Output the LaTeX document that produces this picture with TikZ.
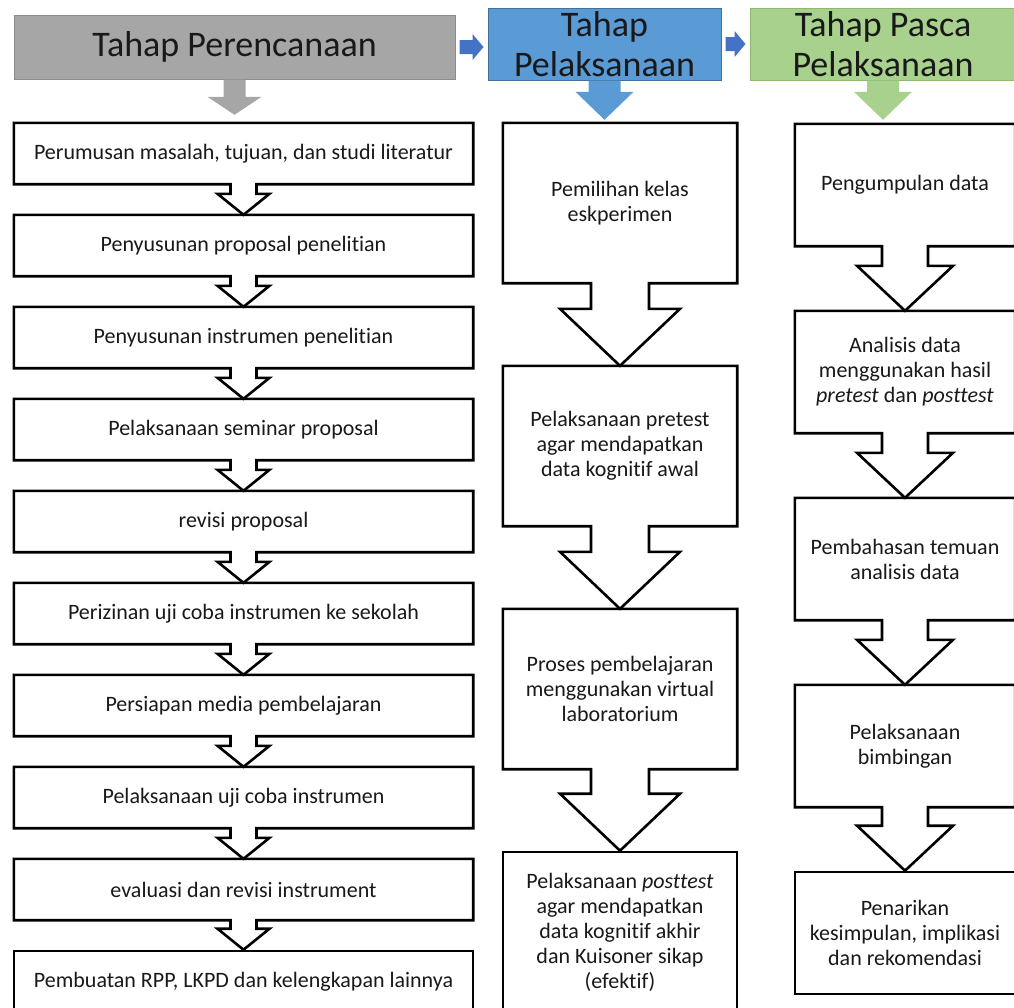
\documentclass[tikz,border=0pt]{standalone}
\usepackage{fontspec}
\setmainfont{Carlito}[Ligatures=NoCommon]
\usepackage{tikz}
\usetikzlibrary{positioning, shapes, arrows.meta, calc}
\definecolor{HeadGray}{RGB}{166,166,166}
\definecolor{HeadGrayLine}{RGB}{140,140,140}
\definecolor{HeadBlue}{RGB}{91,155,213}
\definecolor{HeadBlueLine}{RGB}{65,113,156}
\definecolor{HeadGreen}{RGB}{169,209,142}
\definecolor{HeadGreenLine}{RGB}{140,185,110}
\definecolor{LinkBlue}{RGB}{68,114,196}
\definecolor{TextDark}{RGB}{25,25,25}

\tikzset{
  header/.style={inner sep=0pt, align=center, text=TextDark, line width=1pt, font=\fontsize{36}{40}\selectfont},
  stepbox/.style={inner sep=0pt, align=center, text=TextDark, font=\fontsize{22}{25}\selectfont},
  boxline/.style={draw=black, line width=2.6pt, line join=miter},
}

% box with a hollow down arrow into the next box
\newcommand{\calloutdown}[5]{%
  \draw[boxline] (#1.north west) -- (#1.north east) -- (#1.south east)
    -- ($(#1.south)+(#3,0)$) -- ($(#2.north)+(#3,-#5)$) -- ($(#2.north)+(#4,-#5)$)
    -- (#2.north) -- ($(#2.north)+(-#4,-#5)$) -- ($(#2.north)+(-#3,-#5)$)
    -- ($(#1.south)+(-#3,0)$) -- (#1.south west) -- cycle;}
% filled block arrow under a header
\newcommand{\blockdown}[7]{%
  \fill[#7] ($(#1.south)+(-#3,0)$) -- ($(#1.south)+(#3,0)$)
    -- ($(#1.south |- #2.north)+(#3,-#5-#6)$) -- ($(#1.south |- #2.north)+(#4,-#5-#6)$)
    -- ($(#1.south |- #2.north)+(0,-#6)$) -- ($(#1.south |- #2.north)+(-#4,-#5-#6)$)
    -- ($(#1.south |- #2.north)+(-#3,-#5-#6)$) -- cycle;}
% small block arrow between headers
\newcommand{\blockright}[3]{%
  \fill[LinkBlue] ($(#1.east)+(4,-#2)$) -- ($(#1.east -| #3.west)+(-15,-#2)$)
    -- ($(#1.east -| #3.west)+(-15,-13)$) -- ($(#1.east -| #3.west)+(-4,0)$)
    -- ($(#1.east -| #3.west)+(-15,13)$) -- ($(#1.east -| #3.west)+(-15,#2)$)
    -- ($(#1.east)+(4,#2)$) -- cycle;}

\begin{document}
\begin{tikzpicture}[x=1pt, y=-1pt]
\fill[white] (0,0) rectangle (1014,1007);
\useasboundingbox (0,0) rectangle (1014,1007);

% headers
\node[header, fill=HeadGray, draw=HeadGrayLine, minimum width=441pt, minimum height=64pt] (hplan) at (234.5,47) {Tahap Perencanaan};
\node[header, fill=HeadBlue, draw=HeadBlueLine, minimum width=233pt, minimum height=72pt] (hexec) at (604.5,44) {Tahap\\Pelaksanaan};
\node[header, fill=HeadGreen, draw=HeadGreenLine, minimum width=266pt, minimum height=72pt] (hpost) at (883,44) {Tahap Pasca\\Pelaksanaan};

% planning column
\node[stepbox, minimum width=459pt, minimum height=61pt] (l1) at (243.5,153.5) {Perumusan masalah, tujuan, dan studi literatur};
\node[stepbox, minimum width=459pt, minimum height=61pt] (l2) at (243.5,245.5) {Penyusunan proposal penelitian};
\node[stepbox, minimum width=459pt, minimum height=61pt] (l3) at (243.5,337.5) {Penyusunan instrumen penelitian};
\node[stepbox, minimum width=459pt, minimum height=61pt] (l4) at (243.5,429.5) {Pelaksanaan seminar proposal};
\node[stepbox, minimum width=459pt, minimum height=61pt] (l5) at (243.5,521.5) {revisi proposal};
\node[stepbox, minimum width=459pt, minimum height=61pt] (l6) at (243.5,613.5) {Perizinan uji coba instrumen ke sekolah};
\node[stepbox, minimum width=459pt, minimum height=61pt] (l7) at (243.5,705.5) {Persiapan media pembelajaran};
\node[stepbox, minimum width=459pt, minimum height=61pt] (l8) at (243.5,797.5) {Pelaksanaan uji coba instrumen};
\node[stepbox, minimum width=459pt, minimum height=61pt] (l9) at (243.5,889.5) {evaluasi dan revisi instrument};
\node[stepbox, boxline, minimum width=459pt, minimum height=61pt] (l10) at (243.5,981.5) {Pembuatan RPP, LKPD dan kelengkapan lainnya};

% execution column
\node[stepbox, minimum width=234pt, minimum height=160pt] (m1) at (620,203) {Pemilihan kelas\\eskperimen};
\node[stepbox, minimum width=234pt, minimum height=160pt] (m2) at (620,446) {Pelaksanaan pretest\\agar mendapatkan\\data kognitif awal};
\node[stepbox, minimum width=234pt, minimum height=160pt] (m3) at (620,689) {Proses pembelajaran\\menggunakan virtual\\laboratorium};
\node[stepbox, boxline, minimum width=234pt, minimum height=160pt] (m4) at (620,932) {Pelaksanaan \textit{posttest}\\agar mendapatkan\\data kognitif akhir\\dan Kuisoner sikap\\(efektif)};

% post column
\node[stepbox, minimum width=220pt, minimum height=122pt] (r1) at (905,185) {Pengumpulan data};
\node[stepbox, minimum width=220pt, minimum height=122pt] (r2) at (905,372) {Analisis data\\menggunakan hasil\\\textit{pretest} dan \textit{posttest}};
\node[stepbox, minimum width=220pt, minimum height=122pt] (r3) at (905,559) {Pembahasan temuan\\analisis data};
\node[stepbox, minimum width=220pt, minimum height=122pt] (r4) at (905,746) {Pelaksanaan\\bimbingan};
\node[stepbox, boxline, minimum width=220pt, minimum height=122pt] (r5) at (905,933) {Penarikan\\kesimpulan, implikasi\\dan rekomendasi};

% arrows
\blockright{hplan}{7}{hexec}
\blockright{hexec}{7}{hpost}
\blockdown{hplan}{l1}{11}{27}{18}{8}{HeadGray}
\blockdown{hexec}{m1}{16}{29}{28}{3}{HeadBlue}
\blockdown{hpost}{r1}{16}{29}{28}{4}{HeadGreen}

\foreach \a/\b in {l1/l2, l2/l3, l3/l4, l4/l5, l5/l6, l6/l7, l7/l8, l8/l9, l9/l10}
  \calloutdown{\a}{\b}{13}{26}{21};
\foreach \a/\b in {m1/m2, m2/m3, m3/m4}
  \calloutdown{\a}{\b}{29}{60}{57};
\foreach \a/\b in {r1/r2, r2/r3, r3/r4, r4/r5}
  \calloutdown{\a}{\b}{23}{48}{45};
\end{tikzpicture}
\end{document}
